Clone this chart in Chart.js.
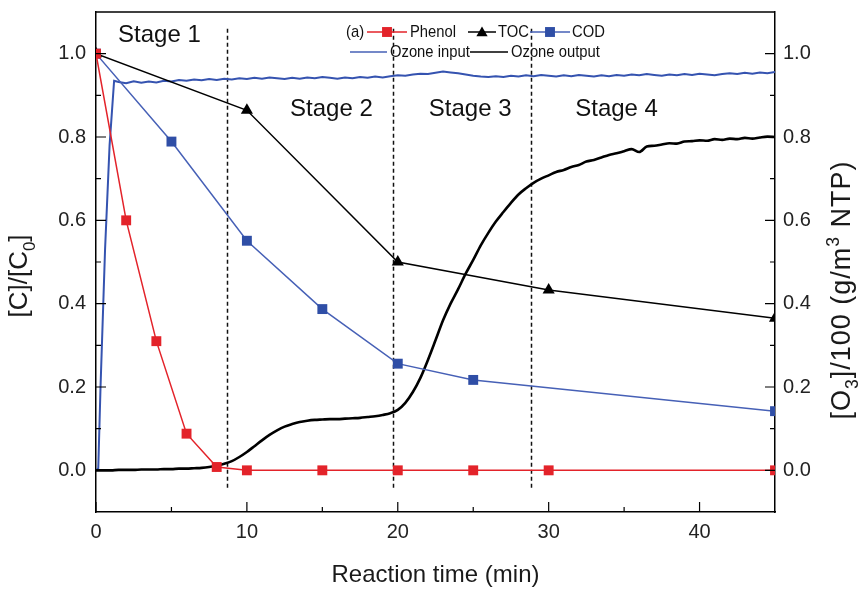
<!DOCTYPE html>
<html>
<head>
<meta charset="utf-8">
<script src="https://cdn.jsdelivr.net/npm/chart.js@4.4.1/dist/chart.umd.min.js"></script>
<style>
  html, body { margin: 0; padding: 0; background: #fff; }
  #wrap { width: 858px; height: 590px; position: relative; }
</style>
</head>
<body>
<div id="wrap"><canvas id="chart"></canvas></div>
<script>
const FONT = "'Liberation Sans', Arial, sans-serif";

// ---- axis ticks ----
const xTicks      = [0, 10, 20, 30, 40];
const xMinorTicks = [5, 15, 25, 35];
const yTicks      = [0, 0.2, 0.4, 0.6, 0.8, 1.0];
const yMinorTicks = [0.1, 0.3, 0.5, 0.7, 0.9];

// ---- sampled concentrations, [C]/[C0] ----
const phenolTime = [0, 2, 4, 6, 8, 10, 15, 20, 25, 30, 45];
const phenolVal  = [1.0, 0.6, 0.31, 0.088, 0.008, 0.0, 0.0, 0.0, 0.0, 0.0, 0.0];

const tocTime = [0, 10, 20, 30, 45];
const tocVal  = [1.0, 0.864, 0.5, 0.433, 0.365];

const codTime = [0, 5, 10, 15, 20, 25, 45];
const codVal  = [1.0, 0.789, 0.551, 0.387, 0.256, 0.217, 0.142];

// ---- ozone monitor traces, [O3]/100 ----
// ozone input: start-up ramp, then readings every 0.5 min from 1.5 min
const ozoneInRampTime = [0, 0.15, 0.3, 0.6, 0.9, 1.2];
const ozoneInRamp     = [0, 0.005, 0.2, 0.53, 0.78, 0.935];
const ozoneInStart = 1.5;
const ozoneInStep  = 0.5;
const ozoneIn = [
  .932, .929, .934, .930, .933, .931, .935, .933, .937, .935,
  .938, .936, .939, .937, .940, .938, .941, .939, .942, .940,
  .943, .941, .939, .942, .940, .943, .941, .944, .942, .940,
  .943, .941, .944, .942, .945, .943, .946, .948, .947, .950,
  .952, .951, .954, .957, .955, .953, .950, .947, .945, .944,
  .946, .944, .947, .945, .948, .946, .949, .947, .945, .948,
  .946, .949, .947, .945, .948, .946, .949, .947, .950, .948,
  .951, .949, .947, .950, .948, .951, .949, .952, .950, .948,
  .951, .953, .951, .954, .952, .955, .953, .956,
];

// ozone output: readings every 0.5 min from 0 min
const ozoneOutStart = 0;
const ozoneOutStep  = 0.5;
const ozoneOut = [
  0, 0, 0, 0.001, 0.001, 0.001, 0.002, 0.002, 0.002, 0.003,
  0.003, 0.004, 0.004, 0.005, 0.006, 0.008, 0.011, 0.016, 0.022, 0.032,
  0.044, 0.058, 0.072, 0.085, 0.096, 0.105, 0.111, 0.116, 0.119, 0.121,
  0.122, 0.123, 0.123, 0.124, 0.125, 0.126, 0.128, 0.130, 0.133, 0.137,
  0.145, 0.162, 0.188, 0.222, 0.265, 0.312, 0.360, 0.400, 0.435, 0.472,
  0.505, 0.540, 0.570, 0.597, 0.620, 0.642, 0.662, 0.677, 0.690, 0.700,
  0.708, 0.716, 0.721, 0.728, 0.733, 0.741, 0.745, 0.751, 0.757, 0.761,
  0.766, 0.771, 0.764, 0.777, 0.779, 0.782, 0.785, 0.784, 0.789, 0.790,
  0.792, 0.791, 0.795, 0.793, 0.796, 0.795, 0.798, 0.796, 0.799, 0.801,
  0.800,
];

// ---- stage annotations ----
const stageBounds = [8.7, 19.7, 28.8];
const stageNames  = ['Stage 1', 'Stage 2', 'Stage 3', 'Stage 4'];
const stageAtX    = [4.2, 15.6, 24.8, 34.5];
const stageAtY    = [1.043, 0.866, 0.866, 0.866];

const RED   = '#e3232a';
const BLUE  = '#2f4ea6';
const BLUE_LINE = '#4660b6';
const BLACK = '#000';

const pts = (xs, ys) => xs.map((t, i) => ({ x: t, y: ys[i] }));
const stepPts = (t0, dt, ys) => ys.map((v, i) => ({ x: t0 + i * dt, y: v }));

// Draws text made of normal / subscript (-1) / superscript (+1) runs, centred on cx.
function drawRich(ctx, parts, cx, baseY, size, spacing) {
  const runFont = s => `${s ? size * 0.65 : size}px ${FONT}`;
  ctx.letterSpacing = `${spacing}px`;
  let w = 0;
  for (const [t, s] of parts) { ctx.font = runFont(s); w += ctx.measureText(t).width; }
  let x = cx - w / 2;
  ctx.textAlign = 'left';
  ctx.textBaseline = 'alphabetic';
  for (const [t, s] of parts) {
    ctx.font = runFont(s);
    const off = s === -1 ? size * 0.3 : s === 1 ? -size * 0.42 : 0;
    ctx.fillText(t, x, baseY + off);
    x += ctx.measureText(t).width;
  }
  ctx.letterSpacing = '0px';
}

// legend text is narrow in the original, so squeeze it horizontally
function legendText(ctx, text, x, y) {
  ctx.save();
  ctx.translate(x, y);
  ctx.scale(0.87, 1);
  ctx.fillStyle = '#111';
  ctx.fillText(text, 0, 0);
  ctx.restore();
}

const decorPlugin = {
  id: 'decor',
  beforeDatasetsDraw(chart) {
    const { ctx, scales: { x, y } } = chart;
    ctx.save();
    // stage boundaries
    ctx.strokeStyle = '#111';
    ctx.lineWidth = 1.5;
    ctx.setLineDash([4, 3]);
    for (const b of stageBounds) {
      const px = Math.round(x.getPixelForValue(b)) + 0.5;
      ctx.beginPath();
      ctx.moveTo(px, y.getPixelForValue(1.06));
      ctx.lineTo(px, y.getPixelForValue(-0.045));
      ctx.stroke();
    }
    ctx.setLineDash([]);
    // stage names
    ctx.fillStyle = '#111';
    ctx.font = `24px ${FONT}`;
    ctx.textAlign = 'center';
    ctx.textBaseline = 'middle';
    stageNames.forEach((n, i) => {
      ctx.fillText(n, x.getPixelForValue(stageAtX[i]), y.getPixelForValue(stageAtY[i]));
    });
    ctx.restore();
  },
  afterDraw(chart) {
    const { ctx, chartArea: a, scales: { x, y } } = chart;
    ctx.save();
    ctx.strokeStyle = BLACK;
    ctx.lineWidth = 1.5;

    // top frame
    ctx.beginPath();
    ctx.moveTo(a.left, a.top);
    ctx.lineTo(a.right, a.top);
    ctx.stroke();

    // inward tick marks
    ctx.lineWidth = 1.2;
    ctx.beginPath();
    const xt = (v, len) => {
      const px = x.getPixelForValue(v);
      ctx.moveTo(px, a.bottom); ctx.lineTo(px, a.bottom - len);
    };
    const yt = (v, len) => {
      const py = y.getPixelForValue(v);
      ctx.moveTo(a.left, py); ctx.lineTo(a.left + len, py);
      ctx.moveTo(a.right, py); ctx.lineTo(a.right - len, py);
    };
    xTicks.forEach(v => xt(v, 10));
    xMinorTicks.forEach(v => xt(v, 5));
    yTicks.forEach(v => yt(v, 10));
    yMinorTicks.forEach(v => yt(v, 5));
    ctx.stroke();

    // legend
    ctx.font = `17px ${FONT}`;
    ctx.textAlign = 'left';
    ctx.textBaseline = 'middle';
    const r1 = 32, r2 = 52;
    const seg = (x0, x1, yy, col, w) => {
      ctx.strokeStyle = col; ctx.lineWidth = w;
      ctx.beginPath(); ctx.moveTo(x0, yy); ctx.lineTo(x1, yy); ctx.stroke();
    };
    const mark = (style, xx, yy, col) => {
      ctx.fillStyle = col; ctx.strokeStyle = col;
      Chart.helpers.drawPoint(ctx, { pointStyle: style, radius: style === 'triangle' ? 6.5 : 7, rotation: 0, borderWidth: 0 }, xx, yy);
    };
    legendText(ctx, '(a)', 346, r1);
    seg(367, 407, r1, RED, 1.5);    mark('rect', 387, r1, RED);
    legendText(ctx, 'Phenol', 410, r1);
    seg(468, 496, r1, BLACK, 1.5);  mark('triangle', 482, r1 + 1, BLACK);
    legendText(ctx, 'TOC', 498, r1);
    seg(530, 570, r1, BLUE_LINE, 1.5); mark('rect', 550, r1, BLUE);
    legendText(ctx, 'COD', 572, r1);
    seg(350, 387, r2, BLUE_LINE, 1.5);
    legendText(ctx, 'Ozone input', 390, r2);
    seg(470, 508, r2, BLACK, 1.5);
    legendText(ctx, 'Ozone output', 511, r2);

    // axis titles
    ctx.fillStyle = '#1a1a1a';
    ctx.font = `24px ${FONT}`;
    ctx.textAlign = 'center';
    ctx.textBaseline = 'alphabetic';
    ctx.fillText('Reaction time (min)', (a.left + a.right) / 2, 582);

    ctx.save();
    ctx.translate(27, 276);
    ctx.rotate(-Math.PI / 2);
    drawRich(ctx, [['[C]/[C', 0], ['0', -1], [']', 0]], 0, 0, 26, 0);
    ctx.restore();

    ctx.save();
    ctx.translate(850, 290);
    ctx.rotate(-Math.PI / 2);
    drawRich(ctx, [['[O', 0], ['3', -1], [']/100 (g/m', 0], ['3', 1], [' NTP)', 0]], 0, 0, 27, 1);
    ctx.restore();

    ctx.restore();
  },
};

const tickFont = { family: FONT, size: 20 };
const yAxis = (position, width, padding) => ({
  type: 'linear',
  position,
  min: -0.1,
  max: 1.1,
  afterBuildTicks: s => { s.ticks = yTicks.map(v => ({ value: v })); },
  afterFit: s => { s.width = width; s.paddingTop = 0; s.paddingBottom = 0; },
  grid: { display: false, drawTicks: false },
  border: { display: true, color: BLACK, width: 1.5 },
  ticks: { font: tickFont, color: '#222', padding, autoSkip: false, callback: v => v.toFixed(1) },
});

new Chart(document.getElementById('chart'), {
  type: 'line',
  data: {
    datasets: [
      {
        label: 'Phenol', data: pts(phenolTime, phenolVal), yAxisID: 'y',
        borderColor: RED, borderWidth: 1.5, backgroundColor: RED,
        pointStyle: 'rect', pointRadius: 7, pointBorderWidth: 0, tension: 0,
      },
      {
        label: 'TOC', data: pts(tocTime, tocVal), yAxisID: 'y',
        borderColor: BLACK, borderWidth: 1.5, backgroundColor: BLACK,
        pointStyle: 'triangle', pointRadius: 7, pointBorderWidth: 0, tension: 0,
      },
      {
        label: 'COD', data: pts(codTime, codVal), yAxisID: 'y',
        borderColor: BLUE_LINE, borderWidth: 1.5, backgroundColor: BLUE,
        pointStyle: 'rect', pointRadius: 7, pointBorderWidth: 0, tension: 0,
      },
      {
        label: 'Ozone output', data: stepPts(ozoneOutStart, ozoneOutStep, ozoneOut), yAxisID: 'y2',
        borderColor: BLACK, borderWidth: 2.6, pointRadius: 0, cubicInterpolationMode: 'monotone',
      },
      {
        label: 'Ozone input',
        data: pts(ozoneInRampTime, ozoneInRamp).concat(stepPts(ozoneInStart, ozoneInStep, ozoneIn)),
        yAxisID: 'y2',
        borderColor: '#3553b0', borderWidth: 2, pointRadius: 0, tension: 0,
      },
    ],
  },
  options: {
    responsive: true,
    maintainAspectRatio: false,
    animation: false,
    devicePixelRatio: 1,
    layout: { padding: { top: 12, left: 0, right: 0, bottom: 0 } },
    plugins: { legend: { display: false }, tooltip: { enabled: false } },
    scales: {
      x: {
        type: 'linear',
        min: 0,
        max: 45,
        afterBuildTicks: s => { s.ticks = xTicks.map(v => ({ value: v })); },
        afterFit: s => { s.height = 78; },
        grid: { display: false, drawTicks: false },
        border: { display: true, color: BLACK, width: 1.5 },
        ticks: { font: tickFont, color: '#222', padding: 8, maxRotation: 0, autoSkip: false },
      },
      y: yAxis('left', 96, 10),
      y2: yAxis('right', 83, 8),
    },
  },
  plugins: [decorPlugin],
});
</script>
</body>
</html>
